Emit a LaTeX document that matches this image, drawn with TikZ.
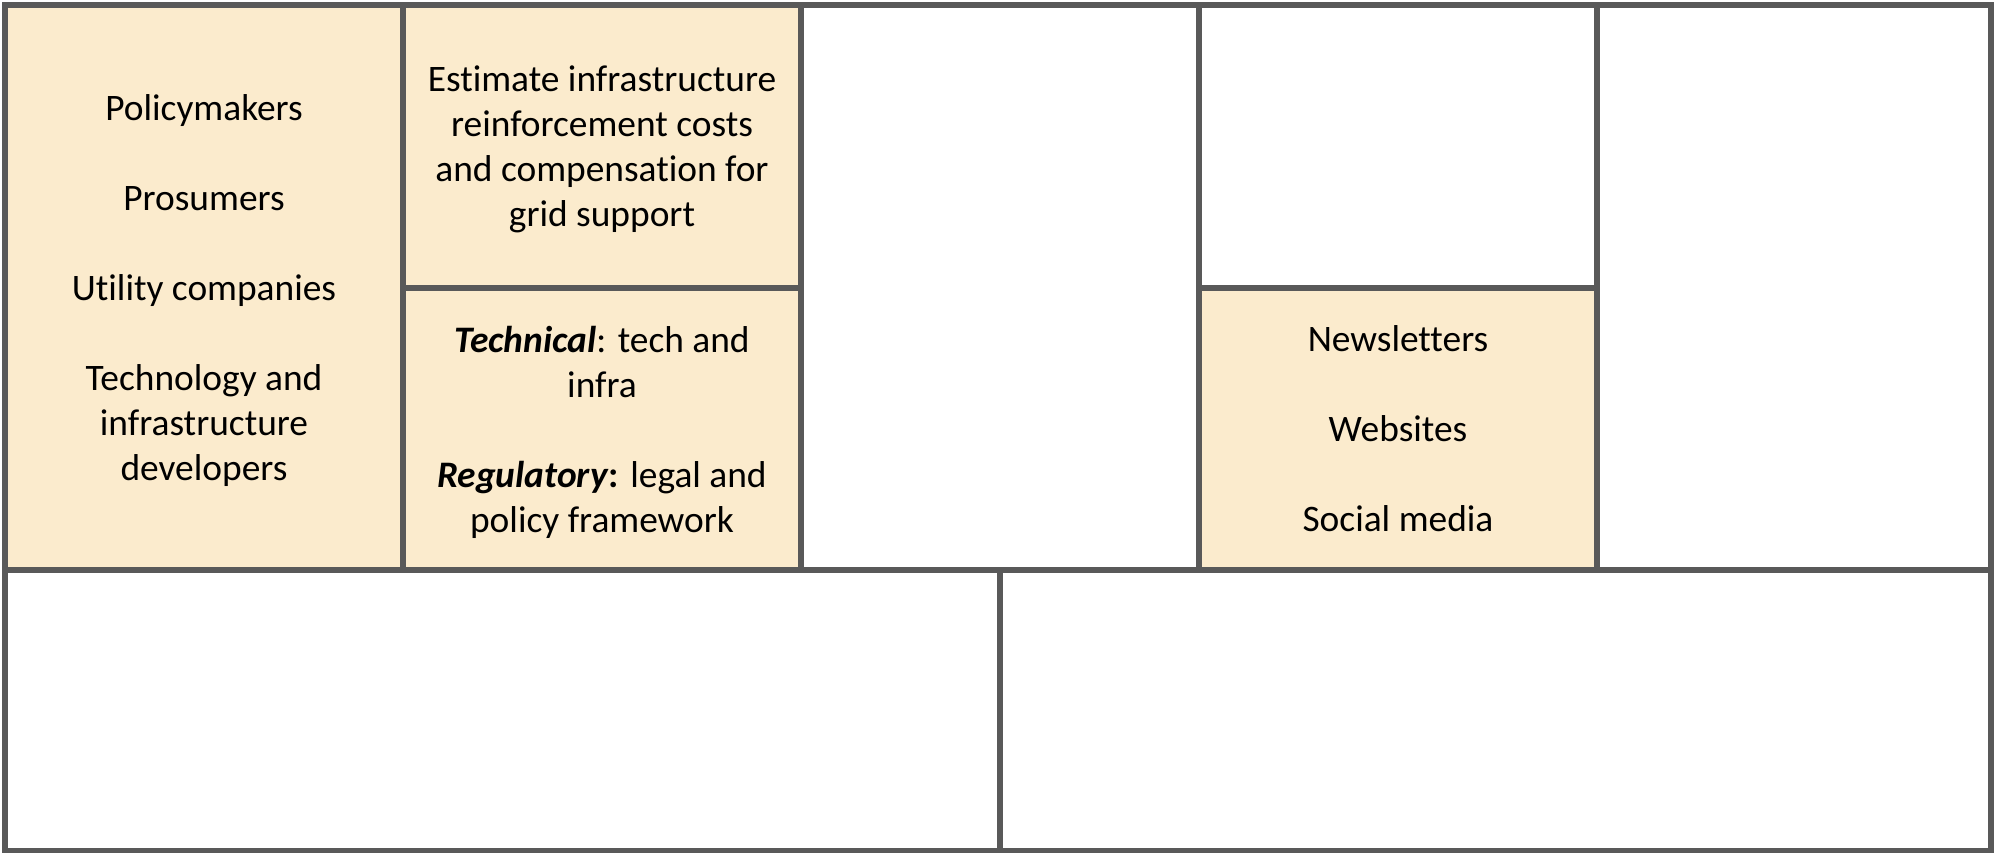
\documentclass[tikz,border=0pt]{standalone}
\usepackage{fontspec}
\setmainfont{Carlito}[Ligatures=NoCommon]
\definecolor{frame}{HTML}{595959}
\definecolor{cream}{HTML}{FBEBCD}
\begin{document}
\begin{tikzpicture}[x=1pt,y=-1pt,
  cell/.style={draw=frame, line width=5.5pt, rectangle, inner sep=0pt,
    align=center, text=black, text depth=0pt,
    font=\fontsize{37.4}{45}\selectfont},
  filled/.style={cell, fill=cream},
  blank/.style={cell, fill=white}]
\useasboundingbox[fill=white] (0,0) rectangle (1995,853);

% upper row of the canvas
\node[filled, minimum width=398pt, minimum height=565pt] (partners) at (204,287.5)
  {Policymakers\\[45pt]Prosumers\\[45pt]Utility companies\\[45pt]Technology and\\infrastructure\\developers};
\node[filled, minimum width=398pt, minimum height=283pt] (activities) at (602,146.5)
  {Estimate infrastructure\\reinforcement costs\\and compensation for\\grid support};
\node[filled, minimum width=398pt, minimum height=282pt] (resources) at (602,429)
  {{\bfseries\itshape Technical}: tech and\\infra\\[45pt]{\bfseries\itshape Regulatory}\textbf{:} legal and\\policy framework};
\node[blank, minimum width=398pt, minimum height=565pt] (value) at (1000,287.5) {};
\node[blank, minimum width=398pt, minimum height=283pt] (relations) at (1398,146.5) {};
\node[filled, minimum width=398pt, minimum height=282pt] (channels) at (1398,429)
  {Newsletters\\[45pt]Websites\\[45pt]Social media};
\node[blank, minimum width=394pt, minimum height=565pt] (segments) at (1794,287.5) {};

% lower row of the canvas
\node[blank, minimum width=995pt, minimum height=281pt] (costs) at (502.5,710.5) {};
\node[blank, minimum width=991pt, minimum height=281pt] (revenue) at (1495.5,710.5) {};
\end{tikzpicture}
\end{document}
